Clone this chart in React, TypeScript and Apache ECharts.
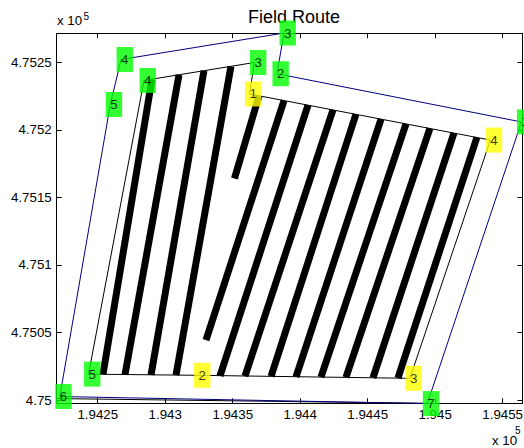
import React, { useEffect, useRef } from "react";
import * as echarts from "echarts";

// ---- data (field coordinates, metres) ----
const xRange = [194219.6, 194564.7];
const yRange = [474997.6, 475271.4];

const xTicks = [194250, 194300, 194350, 194400, 194450, 194500, 194550];
const xTickLabels = ["1.9425", "1.943", "1.9435", "1.944", "1.9445", "1.945", "1.9455"];
const yTicks = [475000, 475050, 475100, 475150, 475200, 475250];
const yTickLabels = ["4.75", "4.7505", "4.751", "4.7515", "4.752", "4.7525"];

// outer field boundary (navy)
const outerBoundary = [
  [194221.9, 475002.6],
  [194259.3, 475218.7],
  [194267.3, 475252.0],
  [194388.0, 475271.6],
  [194382.8, 475241.5],
  [194563.9, 475205.8],
  [194494.2, 474997.4],
  [194221.9, 475002.6],
];

// bottom black edge
const bottomEdge = [
  [194219.6, 475001.1],
  [194494.2, 474997.6],
];

// inner headland boundary (black thin)
const innerBoundary = [
  [194243.2, 475019.2],
  [194284.3, 475236.5],
  [194366.1, 475249.8],
  [194362.4, 475226.5],
  [194540.9, 475192.4],
  [194481.3, 475016.1],
  [194324.7, 475018.3],
  [194243.2, 475019.2],
];

// swaths (thick black) : [top, bottom]
const swaths = [
  [[194290.2, 475237.5], [194253.9, 475019.1]],
  [[194310.2, 475240.7], [194270.2, 475018.9]],
  [[194328.7, 475243.7], [194289.5, 475018.7]],
  [[194348.7, 475247.0], [194308.0, 475018.4]],
  [[194369.5, 475225.2], [194351.3, 475164.0]],
  [[194388.0, 475221.6], [194330.2, 475044.4]],
  [[194405.8, 475218.2], [194340.6, 475017.9]],
  [[194424.3, 475214.7], [194359.1, 475017.7]],
  [[194441.3, 475211.5], [194378.4, 475017.5]],
  [[194459.9, 475207.9], [194396.9, 475017.2]],
  [[194478.4, 475204.4], [194415.4, 475017.0]],
  [[194496.1, 475201.0], [194433.9, 475016.7]],
  [[194513.9, 475197.6], [194453.9, 475016.4]],
  [[194530.9, 475194.3], [194472.4, 475016.2]],
];

// vertex labels: [x, y, text]
const greenLabels = [
  [194563.9, 475205.8, "1"],
  [194382.8, 475241.5, "2"],
  [194388.0, 475271.6, "3"],
  [194267.3, 475252.0, "4"],
  [194259.3, 475218.7, "5"],
  [194221.9, 475002.6, "6"],
  [194494.2, 474997.4, "7"],
  [194243.2, 475019.2, "5"],
  [194284.3, 475236.5, "4"],
  [194366.1, 475249.8, "3"],
];
const yellowLabels = [
  [194362.4, 475226.5, "1"],
  [194324.7, 475018.3, "2"],
  [194481.3, 475016.1, "3"],
  [194540.9, 475192.4, "4"],
];

const FONT = "'Liberation Sans', Arial, Helvetica, sans-serif";

function labelSeries(points: any[], bg: string) {
  return {
    type: "scatter",
    clip: false,
    z: 10,
    symbolSize: 1,
    itemStyle: { color: "rgba(0,0,0,0)" },
    data: points.map((p) => ({
      value: [p[0], p[1]],
      label: {
        show: true,
        formatter: p[2],
        position: "inside",
        offset: [3.7, 0],
        backgroundColor: bg,
        padding: [5, 4.5, 5, 4.5],
        color: "#000",
        fontSize: 13.3,
        fontFamily: FONT,
        lineHeight: 15,
      },
    })),
  };
}

const tickFmt = (ticks: number[], labels: string[]) => (v: number) => {
  const i = ticks.findIndex((t) => Math.abs(t - v) < 1e-6);
  return i >= 0 ? labels[i] : "";
};

const axisCommon = {
  type: "value",
  splitLine: { show: false },
  axisLine: { show: true, onZero: false, lineStyle: { color: "#000", width: 1 } },
};

export default function App() {
  const ref = useRef<HTMLDivElement>(null);
  useEffect(() => {
    const chart = echarts.init(ref.current as HTMLDivElement, null, { renderer: "svg" });
    const option: any = {
      animation: false,
      backgroundColor: "#fff",
      grid: { left: 56.7, top: 33.3, right: 1.5, bottom: 44.7, containLabel: false, outerBoundsMode: "none" },
      xAxis: [
        {
          ...axisCommon,
          position: "bottom",
          min: xRange[0],
          max: xRange[1],
          axisTick: { show: true, inside: true, length: 5, customValues: xTicks, lineStyle: { color: "#000" } },
          axisLabel: {
            show: true,
            customValues: xTicks,
            formatter: tickFmt(xTicks, xTickLabels),
            margin: 5,
            color: "#000",
            fontSize: 13.3,
            fontFamily: FONT,
          },
        },
        {
          ...axisCommon,
          position: "top",
          min: xRange[0],
          max: xRange[1],
          axisTick: { show: true, inside: true, length: 5, customValues: xTicks, lineStyle: { color: "#000" } },
          axisLabel: { show: false },
        },
      ],
      yAxis: [
        {
          ...axisCommon,
          position: "left",
          min: yRange[0],
          max: yRange[1],
          axisTick: { show: true, inside: true, length: 5, customValues: yTicks, lineStyle: { color: "#000" } },
          axisLabel: {
            show: true,
            customValues: yTicks,
            formatter: tickFmt(yTicks, yTickLabels),
            margin: 5,
            color: "#000",
            fontSize: 13.3,
            fontFamily: FONT,
          },
        },
        {
          ...axisCommon,
          position: "right",
          min: yRange[0],
          max: yRange[1],
          axisTick: { show: true, inside: true, length: 5, customValues: yTicks, lineStyle: { color: "#000" } },
          axisLabel: { show: false },
        },
      ],
      graphic: [
        { type: "text", x: 294, y: 17, style: { text: "Field Route", fill: "#000", fontSize: 18, fontFamily: FONT, align: "center", verticalAlign: "middle" } },
        { type: "text", x: 57, y: 20, style: { text: "x 10", fill: "#000", fontSize: 13.3, fontFamily: FONT, align: "left", verticalAlign: "middle" } },
        { type: "text", x: 83.5, y: 16.5, style: { text: "5", fill: "#000", fontSize: 10, fontFamily: FONT, align: "left", verticalAlign: "middle" } },
        { type: "text", x: 492, y: 440, style: { text: "x 10", fill: "#000", fontSize: 13.3, fontFamily: FONT, align: "left", verticalAlign: "middle" } },
        { type: "text", x: 515, y: 430, style: { text: "5", fill: "#000", fontSize: 10, fontFamily: FONT, align: "left", verticalAlign: "middle" } },
      ],
      series: [
        {
          type: "lines",
          coordinateSystem: "cartesian2d",
          z: 3,
          lineStyle: { color: "#000", width: 7, opacity: 1, cap: "butt" },
          data: swaths.map((s) => ({ coords: s })),
        },
        {
          type: "line",
          z: 4,
          showSymbol: false,
          symbol: "none",
          lineStyle: { color: "#000", width: 1 },
          data: innerBoundary,
        },
        {
          type: "line",
          z: 4,
          showSymbol: false,
          symbol: "none",
          clip: false,
          lineStyle: { color: "#000", width: 1 },
          data: bottomEdge,
        },
        {
          type: "line",
          z: 5,
          showSymbol: false,
          symbol: "none",
          clip: false,
          lineStyle: { color: "#000080", width: 1 },
          data: outerBoundary,
        },
        labelSeries(greenLabels, "#00ff00"),
        labelSeries(yellowLabels, "#ffff00"),
      ],
    };
    chart.setOption(option);
    return () => chart.dispose();
  }, []);
  return (
    <div
      ref={ref}
      style={{ position: "fixed", left: 0, top: 0, width: 524, height: 448, background: "#fff" }}
    />
  );
}
